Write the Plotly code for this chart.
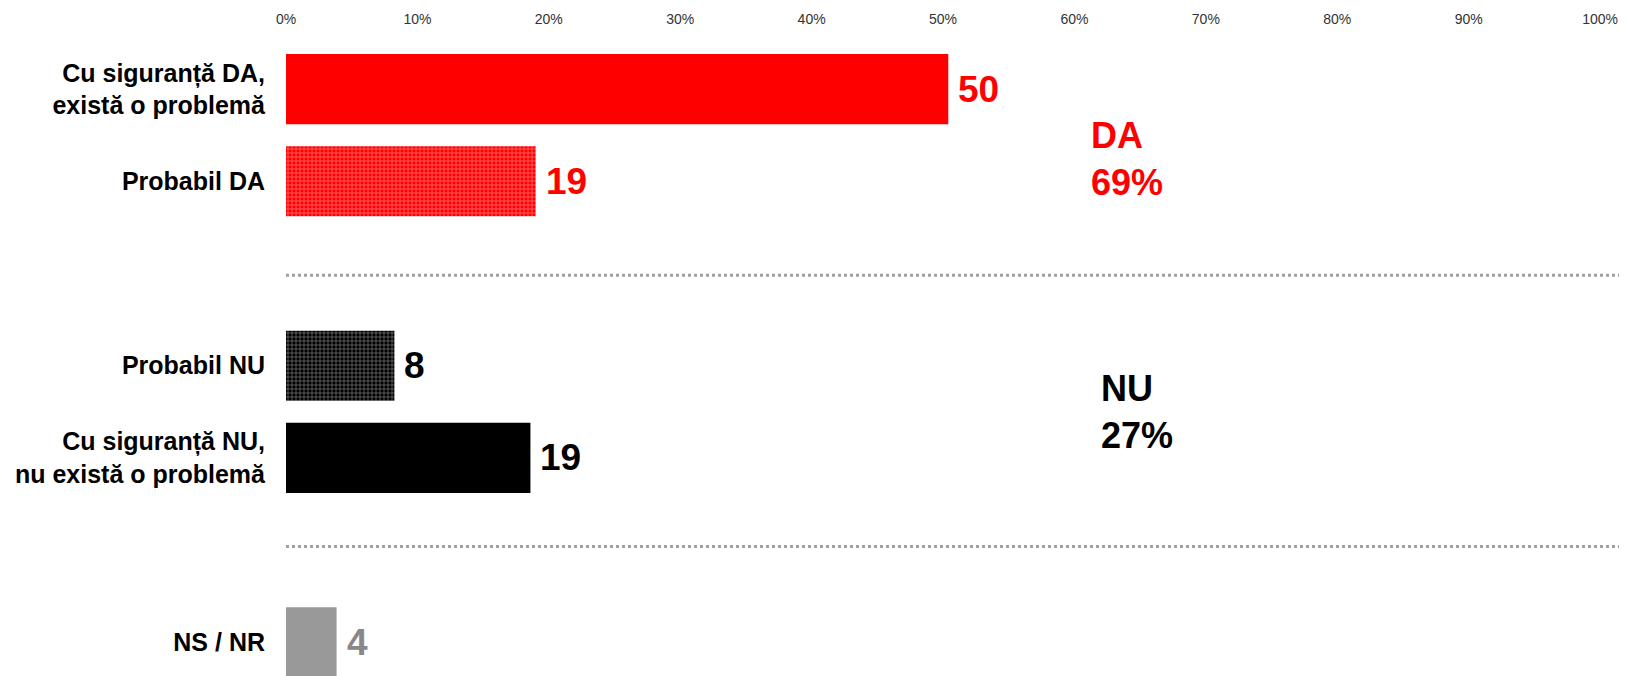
import plotly.graph_objects as go

categories = ["Cu siguranță DA,<br>există o problemă", "Probabil DA", "Probabil NU",
              "Cu siguranță NU,<br>nu există o problemă", "NS / NR"]
positions = [0, 1, 3, 4, 6]
values = [50.4, 19.0, 8.25, 18.6, 3.85]
value_labels = ["50", "19", "8", "19", "4"]
bar_colors = ["#FF0000", "#FF0000", "#000000", "#000000", "#999999"]
label_colors = ["#FF0000", "#FF0000", "#000000", "#000000", "#888888"]
pattern_shapes = ["", "+", "+", "", ""]
separators = [2.02, 4.96]
group_titles = ["DA<br>69%", "NU<br>27%"]
group_x = [61.1, 61.85]
group_y = [0.76, 3.5]
group_colors = ["#FF0000", "#000000"]
tick_vals = [0, 10, 20, 30, 40, 50, 60, 70, 80, 90, 100]
tick_text = [f"{v}%" for v in tick_vals]

FONT = "Liberation Sans, Arial, sans-serif"

fig = go.Figure()
fig.add_trace(go.Bar(
    x=values, y=positions, orientation="h", width=0.76,
    marker=dict(color=bar_colors, line=dict(width=0),
                pattern=dict(shape=pattern_shapes, fgcolor="white",
                             size=4, solidity=0.3)),
    hoverinfo="skip", showlegend=False,
))

annotations = []
for v, p, t, c in zip(values, positions, value_labels, label_colors):
    annotations.append(dict(x=v, y=p, xref="x", yref="y", text=t, showarrow=False,
                            xanchor="left", yanchor="middle", xshift=8,
                            font=dict(family=FONT, size=37, color=c, weight="bold")))
for t, gx, gy, c in zip(group_titles, group_x, group_y, group_colors):
    annotations.append(dict(x=gx, y=gy, xref="x", yref="y", text=t, showarrow=False,
                            xanchor="left", yanchor="middle", align="left",
                            font=dict(family=FONT, size=36, color=c, weight="bold")))

shapes = []
for s in separators:
    shapes.append(dict(type="line", xref="x", yref="y", x0=0, x1=102.05, y0=s, y1=s,
                       line=dict(color="#A0A0A0", width=3, dash="dot")))

# page body has an 8px default margin, so the figure is 8px smaller and offsets reduced
fig.update_layout(
    width=1619, height=668,
    margin=dict(l=277.5, r=0, t=35, b=0, pad=0),
    paper_bgcolor="white", plot_bgcolor="white",
    annotations=annotations, shapes=shapes,
    xaxis=dict(range=[0, 102.05], side="top", tickvals=tick_vals, ticktext=tick_text,
               showgrid=False, zeroline=False, showline=False,
               ticks="outside", ticklen=12, tickcolor="rgba(0,0,0,0)",
               tickfont=dict(family=FONT, size=14, color="#333333")),
    yaxis=dict(range=[6.366, -0.5], tickvals=positions, ticktext=categories,
               showgrid=False, zeroline=False, showline=False,
               ticks="outside", ticklen=15, tickcolor="rgba(0,0,0,0)",
               tickfont=dict(family=FONT, size=25, color="#000000", weight="bold")),
)

fig.write_html("out.html")
